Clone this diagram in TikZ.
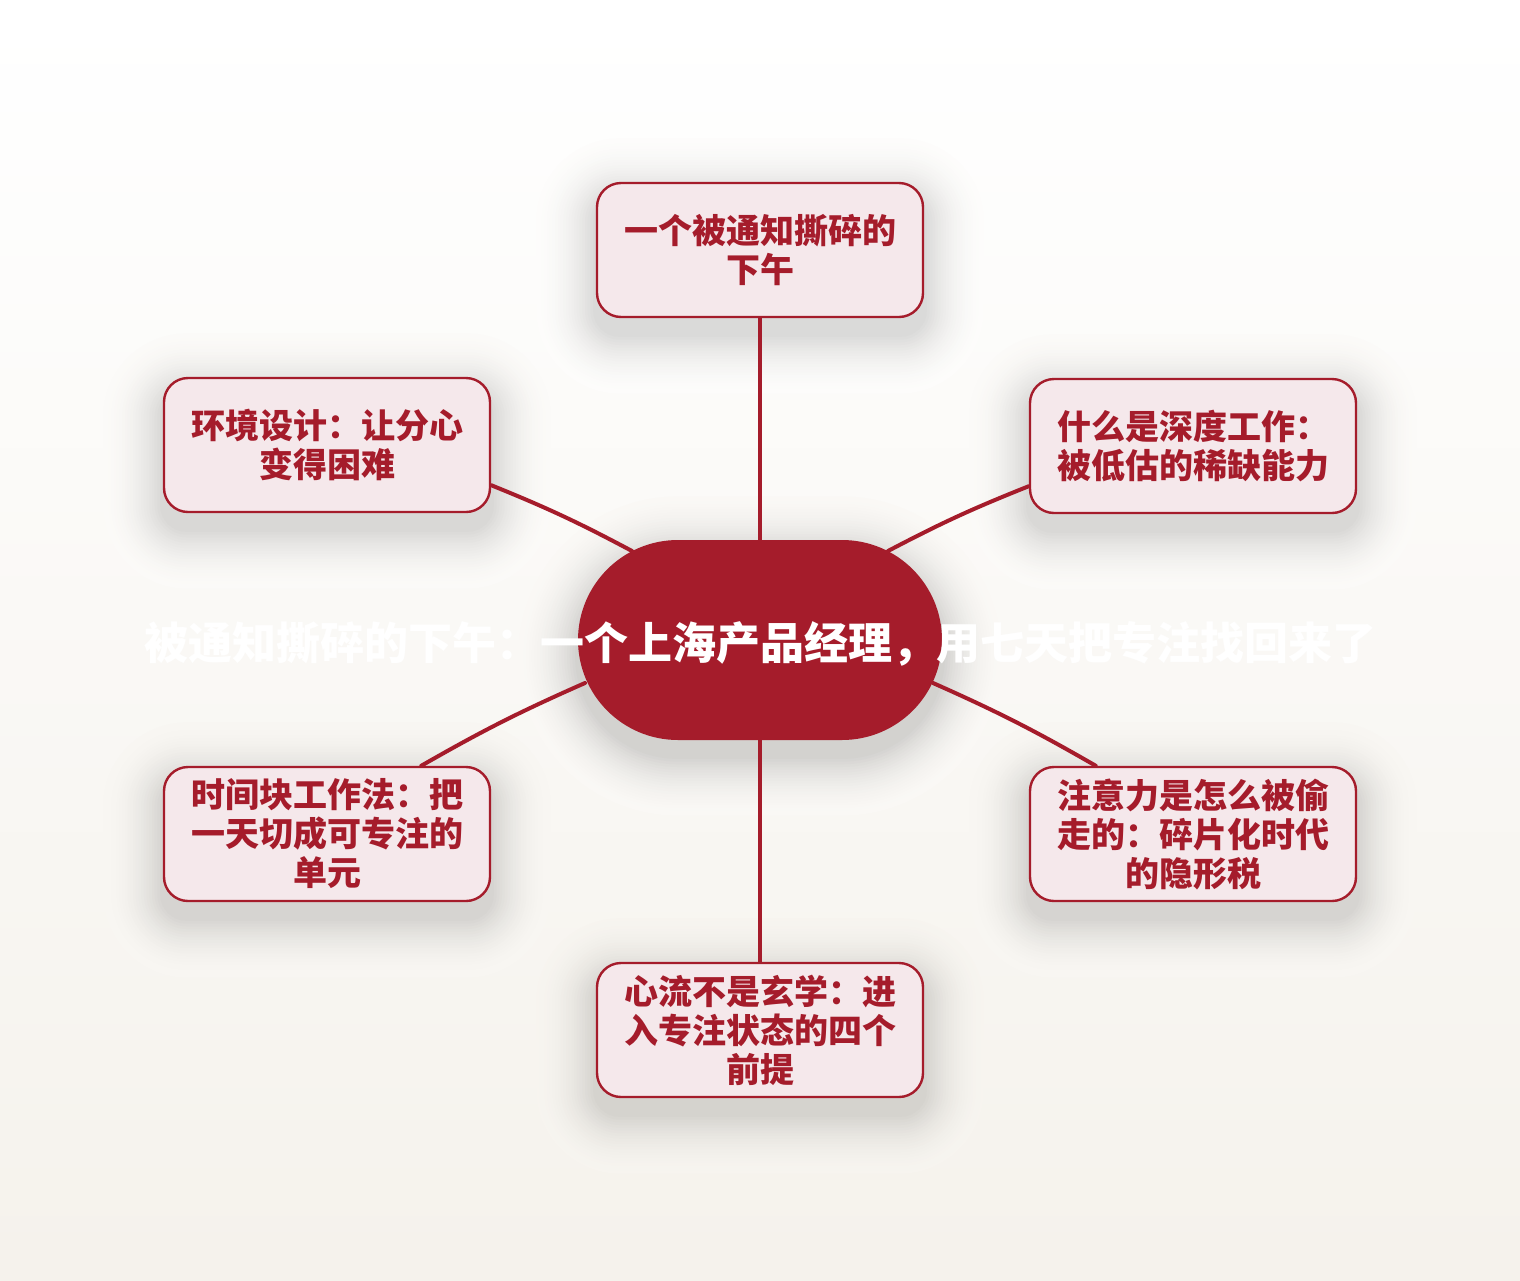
\documentclass[tikz,border=0pt]{standalone}
\usepackage{fontspec}
\newfontfamily\cjkb{Noto Sans CJK SC Black}
\usetikzlibrary{calc}
\definecolor{mred}{HTML}{A51C2B}
\definecolor{mpink}{HTML}{F5E8EB}
\definecolor{bgtop}{HTML}{FFFFFF}
\definecolor{bgbot}{HTML}{F5F2EC}
\pgfdeclarelayer{bg}
\pgfdeclarelayer{shadows}
\pgfdeclarelayer{edges}
\pgfsetlayers{bg,shadows,edges,main}
\tikzset{
  child/.style={draw=mred,line width=2.4pt,fill=mpink,rounded corners=24pt,
    minimum width=326pt,minimum height=134pt,align=center,text=mred,
    font=\cjkb\fontsize{34}{39}\selectfont,inner sep=0pt,
    execute at begin node={\rule{0pt}{40pt}}},
  hub/.style={fill=mred,rounded corners=100pt,minimum width=364pt,minimum height=200pt,inner sep=0pt},
  title/.style={text=white,font=\cjkb\fontsize{44}{52}\selectfont,inner sep=0pt},
  link/.style={draw=mred,line width=4pt,line cap=round}
}
% soft shadow made of opaque rings: node, corner radius, max darkness, local background (percent of bottom colour)
\newcommand\softshade[4]{%
  \begin{pgfonlayer}{shadows}
  \colorlet{locbg}{bgbot!#4!bgtop}%
  \foreach \i in {22,...,1}{
    \pgfmathsetmacro\dd{2.7*\i}
    \pgfmathsetmacro\kk{#3*(1-\i/23)*(1-\i/23)}
    \pgfmathsetmacro\rr{#2+\dd}
    \fill[color=black!\kk!locbg,rounded corners=\rr pt]
      ($(#1.north west)+(-\dd,-\dd+16)$) rectangle ($(#1.south east)+(\dd,\dd+16)$);
  }
  \end{pgfonlayer}%
}
\begin{document}
\begin{tikzpicture}[x=1pt,y=-1pt]
\useasboundingbox (0,0) rectangle (1520,1280);
\begin{pgfonlayer}{bg}
\foreach \j in {0,...,79}{
  \pgfmathsetmacro\pp{100*\j/79}
  \fill[color=bgbot!\pp!bgtop] (0,16*\j) rectangle (1520,16*\j+17);
}
\end{pgfonlayer}
\node[hub] (c) at (760,640) {};
\node[title] (t) at (760,644) {被通知撕碎的下午：一个上海产品经理，用七天把专注找回来了};
\node[child] (top) at (760,250) {一个被通知撕碎的\\下午};
\node[child] (ur) at (1193,446) {什么是深度工作：\\被低估的稀缺能力};
\node[child] (ul) at (327,445) {环境设计：让分心\\变得困难};
\node[child] (ll) at (327,834) {时间块工作法：把\\一天切成可专注的\\单元};
\node[child] (lr) at (1193,834) {注意力是怎么被偷\\走的：碎片化时代\\的隐形税};
\node[child] (bot) at (760,1030) {心流不是玄学：进\\入专注状态的四个\\前提};
\softshade{c}{100}{17}{51}
\softshade{top}{24}{15}{21}
\softshade{ur}{24}{15}{37}
\softshade{ul}{24}{15}{37}
\softshade{ll}{24}{15}{67}
\softshade{lr}{24}{15}{67}
\softshade{bot}{24}{15}{83}
\begin{pgfonlayer}{edges}
\draw[link] (top.south) -- (c.north);
\draw[link] (c.south) -- (bot.north);
\draw[link] ([yshift=28pt]ul.south east) to[bend left=3] ($(c.center)+(-128,-89)$);
\draw[link] ([yshift=28pt]ur.south west) to[bend right=3] ($(c.center)+(128,-89)$);
\draw[link] ([xshift=-70pt]ll.north east) to[bend left=3] ($(c.center)+(-175,43)$);
\draw[link] ([xshift=67pt]lr.north west) to[bend right=3] ($(c.center)+(173,43)$);
\end{pgfonlayer}
\end{tikzpicture}
\end{document}
